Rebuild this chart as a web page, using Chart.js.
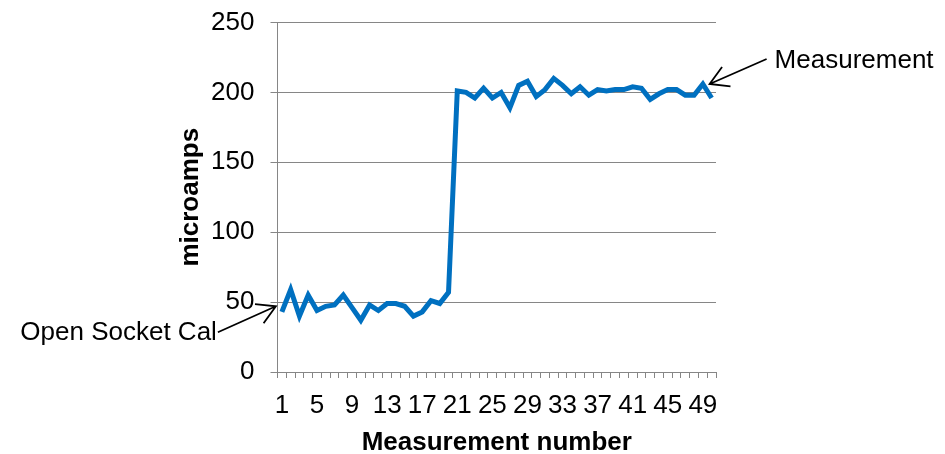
<!DOCTYPE html>
<html>
<head>
<meta charset="utf-8">
<script src="https://cdn.jsdelivr.net/npm/chart.js@4/dist/chart.umd.min.js"></script>
<style>
  html, body { margin: 0; padding: 0; background: #ffffff; }
  #wrap { width: 945px; height: 454px; position: relative; }
</style>
</head>
<body>
<div id="wrap"><canvas id="chart" width="945" height="454"></canvas></div>
<script>
// Measurement index along the x axis
const categories = ['1','2','3','4','5','6','7','8','9','10',
  '11','12','13','14','15','16','17','18','19','20',
  '21','22','23','24','25','26','27','28','29','30',
  '31','32','33','34','35','36','37','38','39','40',
  '41','42','43','44','45','46','47','48','49','50'];

// Category labels that are printed under the axis
const tickLabels = ['1','5','9','13','17','21','25','29','33','37','41','45','49'];

// Current readings in microamps
const microamps = [43, 59, 40, 55, 44, 47, 48, 55, 46, 37,
  48, 44, 49, 49, 47, 40, 43, 51, 49, 57,
  201, 200, 196, 203, 196, 200, 189, 205, 208, 197,
  202, 210, 205, 199, 204, 198, 202, 201, 202, 202,
  204, 203, 195, 199, 202, 202, 198, 198, 206, 196];

// Value axis ticks
const yTicks = [0, 50, 100, 150, 200, 250];

// Callouts: text plus the measurement they point at
const callouts = [
  { text: 'Open Socket Cal', index: 0, value: 47, side: 'left' },
  { text: 'Measurement', index: 49, value: 206, side: 'right' }
];

const FONT = "'Liberation Sans', Arial, Helvetica, sans-serif";
const AXIS_GREY = '#868686';

const calloutPlugin = {
  id: 'callouts',
  afterDraw(chart) {
    const ctx = chart.ctx;
    const xs = chart.scales.x, ys = chart.scales.y;
    ctx.save();
    ctx.strokeStyle = '#000000';
    ctx.fillStyle = '#000000';
    ctx.lineWidth = 1.8;
    ctx.font = '26px ' + FONT;
    ctx.textBaseline = 'middle';
    callouts.forEach(c => {
      const px = xs.getPixelForValue(c.index);
      const py = ys.getPixelForValue(c.value);
      let tip, tail, tx;
      if (c.side === 'left') {
        tip = { x: px - 6, y: py };
        tail = { x: tip.x - 58, y: tip.y + 26 };
        ctx.textAlign = 'right';
        tx = tail.x - 1;
      } else {
        tip = { x: px - 2, y: py };
        tail = { x: tip.x + 57, y: tip.y - 25 };
        ctx.textAlign = 'left';
        tx = tail.x + 8;
      }
      ctx.beginPath();
      ctx.moveTo(tail.x, tail.y);
      ctx.lineTo(tip.x, tip.y);
      const ang = Math.atan2(tail.y - tip.y, tail.x - tip.x);
      const len = 21, spread = Math.PI / 6;
      ctx.moveTo(tip.x + len * Math.cos(ang - spread), tip.y + len * Math.sin(ang - spread));
      ctx.lineTo(tip.x, tip.y);
      ctx.lineTo(tip.x + len * Math.cos(ang + spread), tip.y + len * Math.sin(ang + spread));
      ctx.stroke();
      ctx.fillText(c.text, tx, tail.y + (c.side === 'left' ? 1 : 2));
    });
    ctx.restore();
  }
};

new Chart(document.getElementById('chart'), {
  type: 'line',
  data: {
    labels: categories,
    datasets: [{
      label: 'microamps',
      data: microamps,
      borderColor: '#0070C0',
      backgroundColor: '#0070C0',
      borderWidth: 5,
      pointRadius: 0,
      tension: 0,
      fill: false
    }]
  },
  options: {
    responsive: false,
    animation: false,
    devicePixelRatio: 1,
    layout: { padding: { left: 150, right: 229, top: 22.5, bottom: 0 } },
    plugins: {
      legend: { display: false },
      tooltip: { enabled: false }
    },
    scales: {
      x: {
        type: 'category',
        offset: true,
        border: { color: AXIS_GREY, width: 1 },
        grid: {
          offset: true,
          drawOnChartArea: false,
          drawTicks: true,
          tickLength: 6,
          color: AXIS_GREY
        },
        ticks: {
          autoSkip: false,
          maxRotation: 0,
          minRotation: 0,
          color: '#000000',
          font: { family: FONT, size: 26 },
          padding: 12,
          callback(value, i) {
            const lbl = categories[i];
            return tickLabels.includes(lbl) ? lbl : '';
          }
        },
        title: {
          display: true,
          text: 'Measurement number',
          color: '#000000',
          font: { family: FONT, size: 26, weight: 'bold' },
          padding: { top: 4, bottom: -4 }
        },
        afterFit(scale) {
          scale.height = 82;
          scale.paddingLeft = 0;
          scale.paddingRight = 0;
        }
      },
      y: {
        min: 0,
        max: 250,
        border: { color: AXIS_GREY, width: 1 },
        grid: {
          color: AXIS_GREY,
          lineWidth: 1,
          tickLength: 7,
          drawTicks: true
        },
        ticks: {
          stepSize: 50,
          color: '#000000',
          font: { family: FONT, size: 26 },
          padding: 16,
          callback(value) { return yTicks.includes(value) ? String(value) : ''; }
        },
        title: {
          display: true,
          text: 'microamps',
          color: '#000000',
          font: { family: FONT, size: 26, weight: 'bold' },
          padding: { top: 25, bottom: 0 }
        },
        afterFit(scale) {
          scale.width = 127.5;
          scale.paddingTop = 0;
          scale.paddingBottom = 0;
        }
      }
    }
  },
  plugins: [calloutPlugin]
});
</script>
</body>
</html>
